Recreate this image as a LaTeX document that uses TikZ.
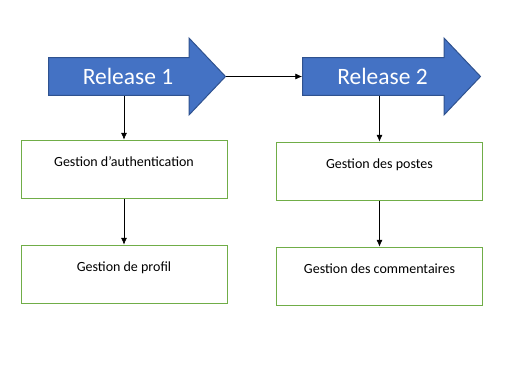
\documentclass[tikz,border=0pt]{standalone}
\usepackage{fontspec}
\setmainfont{Carlito}
\usepackage{tikz}
\usetikzlibrary{shapes.arrows,arrows.meta,positioning,backgrounds}

\definecolor{relblue}{HTML}{4472C4}
\definecolor{relborder}{HTML}{2F528F}
\definecolor{modgreen}{HTML}{70AD47}

\begin{document}
\begin{tikzpicture}[
  x=0.75pt, y=-0.75pt,
  release/.style={single arrow, draw=relborder, line width=0.75pt, fill=relblue,
    text=white, font=\fontsize{17.6}{20}\selectfont,
    text height=13.3pt, text depth=2pt, inner ysep=6.2pt,
    single arrow head extend=14.6pt, single arrow tip angle=93},
  module/.style={draw=modgreen, line width=0.75pt, fill=white,
    minimum width=154.5pt, minimum height=43.5pt,
    font=\fontsize{10.5}{12}\selectfont, text height=6pt, text depth=10.5pt},
  >={Latex[length=5pt,width=4.5pt]}
]
\useasboundingbox (0,0) rectangle (526,365);

% Releases
\node[release, minimum height=132.75pt, anchor=tail] (rel1) at (48,76.5) {Release 1};
\node[release, minimum height=133.5pt, anchor=tail] (rel2) at (302,76.5) {Release 2};

% Modules of each release
\node[module] (auth) at (124,169) {Gestion d’authentication};
\node[module, below=34.5pt of auth] (profil) {Gestion de profil};
\node[module] (postes) at (379.5,171) {Gestion des postes};
\node[module, below=34.5pt of postes] (comm) {Gestion des commentaires};

% Links
\draw[->] (rel1.tip) -- (rel2.tail);
\begin{scope}[on background layer]
  \draw[->] (auth.north |- rel1.center) -- (auth.north);
  \draw[->] (postes.north |- rel2.center) -- (postes.north);
\end{scope}
\draw[->] (auth) -- (profil);
\draw[->] (postes) -- (comm);
\end{tikzpicture}
\end{document}
